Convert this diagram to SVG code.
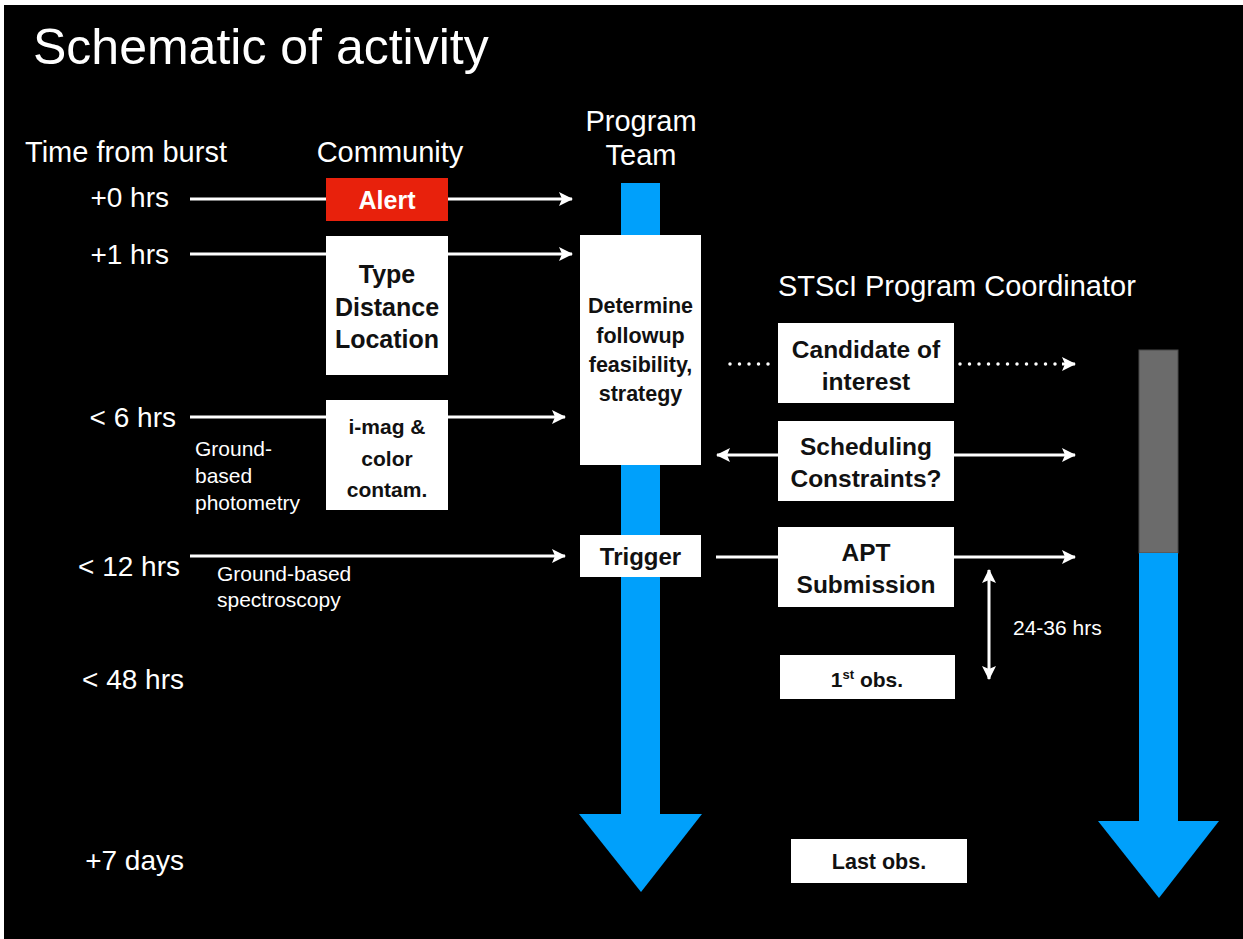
<svg xmlns="http://www.w3.org/2000/svg" width="1243" height="939" viewBox="0 0 1243 939">
<defs>
<style>
text{font-family:"Liberation Sans",Arial,Helvetica,sans-serif;}
.hdr{fill:#fff;font-size:29px;}
.lbl{fill:#fff;font-size:28px;}
.sm{fill:#fff;font-size:21px;}
.bx{fill:#fff;}
.bt{fill:#111;font-weight:bold;text-anchor:middle;}
.ln{stroke:#fff;stroke-width:3;fill:none;}
.blue{fill:#00a0fb;}
</style>
<marker id="ah" markerUnits="userSpaceOnUse" markerWidth="16" markerHeight="16" viewBox="0 0 16 16" refX="14" refY="8" orient="auto-start-reverse">
<path d="M1,1 L15,8 L1,15 L4,8 z" fill="#fff"/>
</marker>
</defs>
<rect x="0" y="0" width="1243" height="939" fill="#fff"/>
<rect x="4" y="5" width="1239" height="934" fill="#000"/>

<text x="33" y="64" fill="#fff" font-size="50">Schematic of activity</text>
<text class="hdr" x="25" y="162">Time from burst</text>
<text class="hdr" x="390" y="162" text-anchor="middle">Community</text>
<text class="hdr" x="641" y="131" text-anchor="middle">Program</text>
<text class="hdr" x="641" y="165" text-anchor="middle">Team</text>
<text class="hdr" x="778" y="296">STScI Program Coordinator</text>

<g id="time-labels" text-anchor="end">
<text class="lbl" x="169" y="207">+0 hrs</text>
<text class="lbl" x="169" y="264">+1 hrs</text>
<text class="lbl" x="176" y="427">&lt; 6 hrs</text>
<text class="lbl" x="180" y="576">&lt; 12 hrs</text>
<text class="lbl" x="184" y="689">&lt; 48 hrs</text>
<text class="lbl" x="184" y="870">+7 days</text>
</g>

<g id="photometry-label">
<text class="sm" x="195" y="456">Ground-</text>
<text class="sm" x="195" y="483">based</text>
<text class="sm" x="195" y="510">photometry</text>
</g>
<g id="spectroscopy-label">
<text class="sm" x="217" y="581">Ground-based</text>
<text class="sm" x="217" y="607">spectroscopy</text>
</g>
<text class="sm" x="1013" y="635" font-size="22">24-36 hrs</text>

<g id="program-team-timeline">
<rect class="blue" x="621" y="183" width="39" height="632"/>
<polygon class="blue" points="579,814 702,814 641,892"/>
</g>
<g id="stsci-timeline">
<rect x="1139" y="350" width="39" height="203" fill="#6b6b6b" stroke="#4a4a4a" stroke-width="1"/>
<rect class="blue" x="1139" y="553" width="39" height="269"/>
<polygon class="blue" points="1098,821 1219,821 1159,898"/>
</g>

<g id="connectors">
<line class="ln" x1="190" y1="199" x2="572" y2="199" marker-end="url(#ah)"/>
<line class="ln" x1="190" y1="254" x2="572" y2="254" marker-end="url(#ah)"/>
<line class="ln" x1="190" y1="417" x2="565" y2="417" marker-end="url(#ah)"/>
<line class="ln" x1="190" y1="556" x2="565" y2="556" marker-end="url(#ah)"/>
<line x1="730" y1="364" x2="776" y2="364" stroke="#fff" stroke-width="3.5" stroke-linecap="round" stroke-dasharray="0 9.5"/>
<line x1="960" y1="364" x2="1062" y2="364" stroke="#fff" stroke-width="3.5" stroke-linecap="round" stroke-dasharray="0 9.5"/>
<line class="ln" x1="1062" y1="364" x2="1075" y2="364" marker-end="url(#ah)" stroke-width="1"/>
<line class="ln" x1="717" y1="455" x2="1075" y2="455" marker-start="url(#ah)" marker-end="url(#ah)"/>
<line class="ln" x1="716" y1="557" x2="1075" y2="557" marker-end="url(#ah)"/>
<line class="ln" x1="989" y1="570" x2="989" y2="679" stroke-width="2" marker-start="url(#ah)" marker-end="url(#ah)"/>
</g>

<g id="alert">
<rect x="326" y="178" width="122" height="43" fill="#e8210c"/>
<text class="bt" x="387" y="209" font-size="25" style="fill:#fff">Alert</text>
</g>
<g id="type-distance-location">
<rect class="bx" x="326" y="236" width="122" height="139"/>
<text class="bt" x="387" y="283" font-size="25">Type</text>
<text class="bt" x="387" y="316" font-size="25">Distance</text>
<text class="bt" x="387" y="348" font-size="25">Location</text>
</g>
<g id="imag-color">
<rect class="bx" x="326" y="400" width="122" height="110"/>
<text class="bt" x="387" y="434" font-size="21">i-mag &amp;</text>
<text class="bt" x="387" y="466" font-size="21">color</text>
<text class="bt" x="387" y="497" font-size="21">contam.</text>
</g>
<g id="determine">
<rect class="bx" x="580" y="235" width="121" height="230"/>
<text class="bt" x="640.5" y="313" font-size="21.5">Determine</text>
<text class="bt" x="640.5" y="343" font-size="21.5">followup</text>
<text class="bt" x="640.5" y="372" font-size="21.5">feasibility,</text>
<text class="bt" x="640.5" y="401" font-size="21.5">strategy</text>
</g>
<g id="trigger">
<rect class="bx" x="580" y="535" width="121" height="42"/>
<text class="bt" x="640.5" y="565" font-size="24">Trigger</text>
</g>
<g id="candidate">
<rect class="bx" x="778" y="323" width="176" height="80"/>
<text class="bt" x="866" y="358" font-size="24.5">Candidate of</text>
<text class="bt" x="866" y="390" font-size="24.5">interest</text>
</g>
<g id="scheduling">
<rect class="bx" x="778" y="421" width="176" height="80"/>
<text class="bt" x="866" y="455" font-size="24.5">Scheduling</text>
<text class="bt" x="866" y="487" font-size="24.5">Constraints?</text>
</g>
<g id="apt">
<rect class="bx" x="778" y="527" width="176" height="80"/>
<text class="bt" x="866" y="561" font-size="24.5">APT</text>
<text class="bt" x="866" y="593" font-size="24.5">Submission</text>
</g>
<g id="first-obs">
<rect class="bx" x="780" y="655" width="175" height="44"/>
<text class="bt" x="867" y="687" font-size="21">1<tspan font-size="13" dy="-8">st</tspan><tspan dy="8"> obs.</tspan></text>
</g>
<g id="last-obs">
<rect class="bx" x="791" y="839" width="176" height="44"/>
<text class="bt" x="879" y="869" font-size="21.5">Last obs.</text>
</g>
</svg>
